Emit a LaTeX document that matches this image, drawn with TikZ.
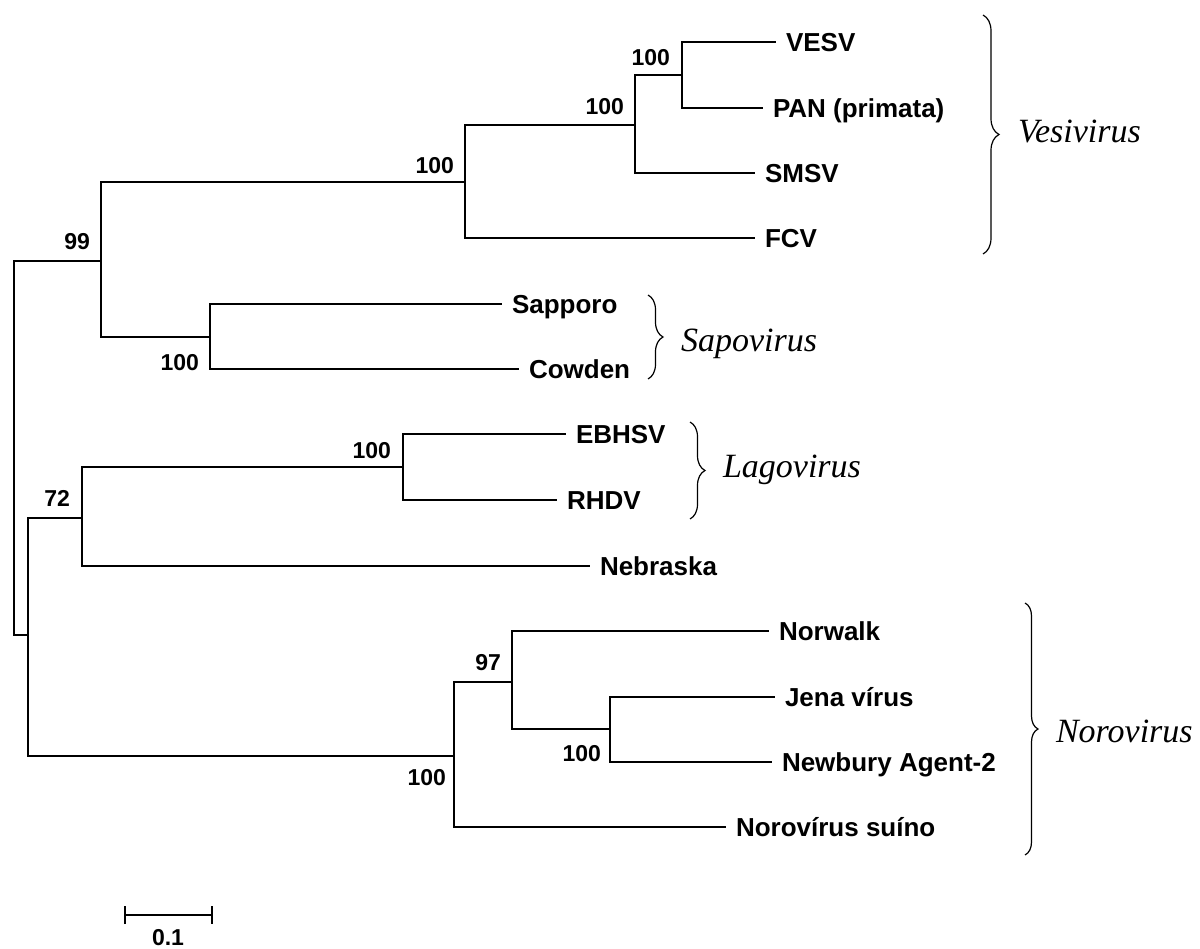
\documentclass[tikz,border=0pt]{standalone}
\usepackage{fontspec}
\newfontfamily\arialfont{Liberation Sans}
\newfontfamily\timesfont{Liberation Serif}
\usetikzlibrary{arrows.meta,decorations.pathreplacing}

\begin{document}
\begin{tikzpicture}[x=1pt,y=-1pt,line width=2pt,
  leaf/.style={anchor=west,inner sep=0pt,outer xsep=10pt,text height=18.6pt,text depth=0pt,
    font=\arialfont\bfseries\fontsize{26}{26}\selectfont},
  boot/.style={anchor=east,inner sep=0pt,text height=16.5pt,text depth=0pt,
    font=\arialfont\bfseries\fontsize{23}{23}\selectfont},
  genus/.style={anchor=west,inner sep=0pt,text height=22pt,text depth=0pt,
    font=\timesfont\itshape\fontsize{34}{34}\selectfont},
  clade/.style={line width=1.2pt,decorate,decoration={brace,amplitude=#1}},
  clade/.default=16pt]
  \useasboundingbox (0,0) rectangle (1200,949);
  % internal nodes
  \coordinate (root) at (14,448);
  \coordinate (nB) at (28,635);
  \coordinate (n99) at (101,261);
  \coordinate (nVes) at (465,182);
  \coordinate (nSM) at (635,125);
  \coordinate (nVP) at (682,75);
  \coordinate (nSapo) at (210,337);
  \coordinate (n72) at (82,518);
  \coordinate (nLago) at (403,467);
  \coordinate (nNoro) at (454,756);
  \coordinate (n97) at (512,682);
  \coordinate (nJN) at (610,729);
  % leaves
  \node[leaf] (vesv) at (776,42) {VESV};
  \node[leaf] (pan) at (763,108) {PAN (primata)};
  \node[leaf] (smsv) at (755,173) {SMSV};
  \node[leaf] (fcv) at (755,238) {FCV};
  \node[leaf] (sapporo) at (502,304) {Sapporo};
  \node[leaf] (cowden) at (519,369) {Cowden};
  \node[leaf] (ebhsv) at (566,434) {EBHSV};
  \node[leaf] (rhdv) at (557,500) {RHDV};
  \node[leaf] (nebraska) at (590,566) {Nebraska};
  \node[leaf] (norwalk) at (769,631) {Norwalk};
  \node[leaf] (jena) at (775,697) {Jena vírus};
  \node[leaf] (newbury) at (772,762) {Newbury Agent-2};
  \node[leaf] (suino) at (726,827) {Norovírus suíno};
  % branches
  \foreach \a/\b in {root/n99,root/nB,nB/n72,nB/nNoro,n99/nVes,n99/nSapo,
      nVes/nSM,nVes/fcv.west,nSM/nVP,nSM/smsv.west,nVP/vesv.west,nVP/pan.west,
      nSapo/sapporo.west,nSapo/cowden.west,n72/nLago,n72/nebraska.west,
      nLago/ebhsv.west,nLago/rhdv.west,nNoro/n97,nNoro/suino.west,
      n97/norwalk.west,n97/nJN,nJN/jena.west,nJN/newbury.west}
    \draw (\a) |- (\b);
  % bootstrap values
  \node[boot] (b99) at (91,241) {99};
  \node[boot] (bVes) at (455,165) {100};
  \node[boot] (bSM) at (625,106) {100};
  \node[boot] (bVP) at (671,57) {100};
  \node[boot] (bSapo) at (200,362) {100};
  \node[boot] (b72) at (71,498) {72};
  \node[boot] (bLago) at (392,450) {100};
  \node[boot] (b97) at (502,662) {97};
  \node[boot] (bNoro) at (447,777) {100};
  \node[boot] (bJN) at (602,753) {100};
  % genera
  \draw[clade] (983,15) -- (983,254);
  \draw[clade=15pt] (648,295) -- (648,379);
  \draw[clade=15pt] (690,422) -- (690,519);
  \draw[clade=13pt] (1025,603) -- (1025,855);
  \node[genus] (vesivirus) at (1017,132) {Vesivirus};
  \node[genus] (sapovirus) at (680,341) {Sapovirus};
  \node[genus] (lagovirus) at (722,467) {Lagovirus};
  \node[genus] (norovirus) at (1055,731) {Norovirus};
  % scale
  \coordinate (barL) at (124,915);
  \coordinate (barR) at (213,915);
  \draw[{Bar[width=18pt]}-{Bar[width=18pt]}] (barL) -- (barR);
  \node[boot,anchor=center] (scale) at (168,937) {0.1};
\end{tikzpicture}
\end{document}
